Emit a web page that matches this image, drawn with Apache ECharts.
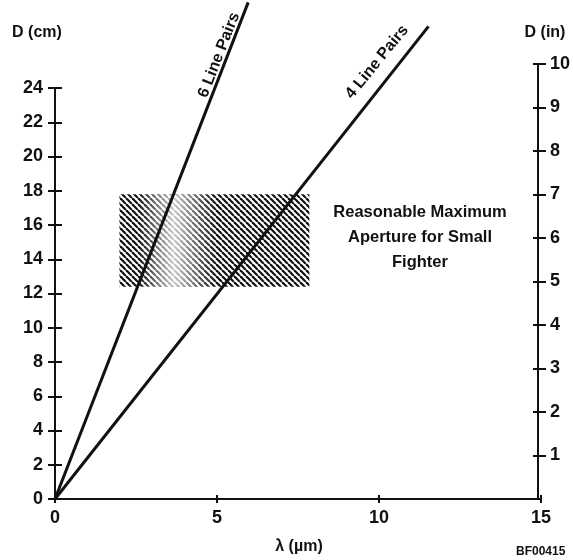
<!DOCTYPE html>
<html>
<head>
<meta charset="utf-8">
<script src="https://cdn.jsdelivr.net/npm/echarts@6/dist/echarts.min.js"></script>
<style>
  html, body { margin: 0; padding: 0; background: #fff; }
  #chart { width: 573px; height: 560px; }
</style>
</head>
<body>
<div id="chart"></div>
<script>
// values
const lp6Lambda = [0, 6.0];
const lp6D = [0, 29.0];
const lp4Lambda = [0, 11.6];
const lp4D = [0, 27.6];
const boxLambda = [2.0, 7.9];
const boxD = [12.4, 17.8];
const fadeLambda = [2.6, 5.0];
const xTicks = [0, 5, 10, 15];
const cmMax = 24;
const inchMax = 10;
const cmPerInch = 2.54;

const FONT = '"Liberation Sans Narrow", "Liberation Sans", Arial, sans-serif';
const ink = '#111';

// diagonal hatch for the aperture box
function makeHatch() {
  const c = document.createElement('canvas');
  c.width = 6; c.height = 6;
  const ctx = c.getContext('2d');
  ctx.strokeStyle = '#111';
  ctx.lineWidth = 2.2;
  for (const k of [-6, 0, 6]) {
    ctx.beginPath();
    ctx.moveTo(k, 0);
    ctx.lineTo(k + 6, 6);
    ctx.stroke();
  }
  return c;
}

const chart = echarts.init(document.getElementById('chart'));

const gridL = 55, gridR = 32, gridB = 61;
const gridTopCm = 88;
// right (inch) axis reaches 25.4 cm, so its grid sits higher
const pxPerCm = (560 - gridB - gridTopCm) / cmMax;
const gridTopIn = Math.round(560 - gridB - inchMax * cmPerInch * pxPerCm);

const labelStyle = { color: ink, fontFamily: FONT, fontWeight: 'bold', fontSize: 18 };
const tickLine = { color: ink, width: 2 };
const noSplit = { show: false };

function pts(xs, ys) { return xs.map((x, i) => [x, ys[i]]); }

// grids 0/2 carry the cm scale, 1/3 the inch scale; 2 and 3 only add the
// inward half of the crossing ticks
const xRange = { type: 'value', min: xTicks[0], max: xTicks[xTicks.length - 1], interval: 5, splitLine: noSplit };

chart.setOption({
  animation: false,
  grid: [
    { left: gridL, right: gridR, top: gridTopCm, bottom: gridB },
    { left: gridL, right: gridR, top: gridTopIn, bottom: gridB },
    { left: gridL, right: gridR, top: gridTopCm, bottom: gridB },
    { left: gridL, right: gridR, top: gridTopIn, bottom: gridB }
  ],
  xAxis: [
    Object.assign({}, xRange, {
      gridIndex: 0,
      axisLine: { lineStyle: tickLine },
      axisTick: { length: 4, lineStyle: tickLine },
      axisLabel: Object.assign({ margin: 10 }, labelStyle)
    }),
    Object.assign({}, xRange, { gridIndex: 1, show: false }),
    Object.assign({}, xRange, {
      gridIndex: 2,
      axisLine: { show: false },
      axisTick: { inside: true, length: 4, lineStyle: tickLine },
      axisLabel: { show: false }
    }),
    Object.assign({}, xRange, { gridIndex: 3, show: false })
  ],
  yAxis: [
    {
      gridIndex: 0, type: 'value', position: 'left', min: 0, max: cmMax, interval: 2,
      axisLine: { show: true, onZero: false, lineStyle: tickLine },
      axisTick: { show: true, length: 7, lineStyle: tickLine },
      axisLabel: Object.assign({ margin: 12 }, labelStyle),
      splitLine: noSplit
    },
    {
      gridIndex: 1, type: 'value', position: 'right', min: 0, max: inchMax, interval: 1,
      axisLine: { show: true, onZero: false, lineStyle: tickLine },
      axisTick: { show: true, length: 8, lineStyle: tickLine },
      axisLabel: Object.assign({ margin: 12, showMinLabel: false }, labelStyle),
      splitLine: noSplit
    },
    {
      gridIndex: 2, type: 'value', position: 'left', min: 0, max: cmMax, interval: 2,
      axisLine: { show: false, onZero: false },
      axisTick: { show: true, inside: true, length: 7, lineStyle: tickLine },
      axisLabel: { show: false },
      splitLine: noSplit
    },
    {
      gridIndex: 3, type: 'value', position: 'right', min: 0, max: inchMax, interval: 1,
      axisLine: { show: false, onZero: false },
      axisTick: { show: true, inside: true, length: 8, lineStyle: tickLine },
      axisLabel: { show: false },
      splitLine: noSplit
    },
    {
      // hidden cm scale spanning the inch grid, used to place the data
      gridIndex: 1, type: 'value', position: 'left', show: false, min: 0, max: inchMax * cmPerInch,
      axisLine: { onZero: false },
      splitLine: noSplit
    }
  ],
  series: [
    {
      type: 'line', xAxisIndex: 1, yAxisIndex: 4, data: [], z: 1, silent: true,
      markArea: {
        silent: true,
        label: { show: false },
        data: [
          [
            { coord: [boxLambda[0], boxD[0]], itemStyle: { color: { image: makeHatch(), repeat: 'repeat' } } },
            { coord: [boxLambda[1], boxD[1]] }
          ],
          [
            {
              coord: [fadeLambda[0], boxD[0]],
              itemStyle: {
                color: {
                  type: 'linear', x: 0, y: 0, x2: 1, y2: 0,
                  colorStops: [
                    { offset: 0, color: 'rgba(255,255,255,0)' },
                    { offset: 0.45, color: 'rgba(255,255,255,0.78)' },
                    { offset: 1, color: 'rgba(255,255,255,0)' }
                  ]
                }
              }
            },
            { coord: [fadeLambda[1], boxD[1]] }
          ]
        ]
      }
    },
    {
      name: '6 Line Pairs', type: 'line', xAxisIndex: 1, yAxisIndex: 4,
      data: pts(lp6Lambda, lp6D), symbol: 'none', clip: false, z: 5,
      lineStyle: { color: ink, width: 3 }
    },
    {
      name: '4 Line Pairs', type: 'line', xAxisIndex: 1, yAxisIndex: 4,
      data: pts(lp4Lambda, lp4D), symbol: 'none', clip: false, z: 5,
      lineStyle: { color: ink, width: 3 }
    }
  ],
  graphic: [
    { type: 'text', x: 37, y: 33, style: { text: 'D (cm)', fill: ink, font: 'bold 16px "Liberation Sans", Arial', align: 'center', verticalAlign: 'middle' } },
    { type: 'text', x: 545, y: 33, style: { text: 'D (in)', fill: ink, font: 'bold 16px "Liberation Sans", Arial', align: 'center', verticalAlign: 'middle' } },
    { type: 'text', x: 299, y: 547, style: { text: 'λ (µm)', fill: ink, font: 'bold 16px "Liberation Sans", Arial', align: 'center', verticalAlign: 'middle' } },
    { type: 'text', x: 516, y: 552, style: { text: 'BF00415', fill: ink, font: 'bold 12px ' + FONT, align: 'left', verticalAlign: 'middle' } },
    { type: 'text', x: 219, y: 55, rotation: 68.7 * Math.PI / 180, style: { text: '6 Line Pairs', fill: ink, font: 'bold 16px "Liberation Sans", Arial', align: 'center', verticalAlign: 'middle' } },
    { type: 'text', x: 377, y: 62, rotation: 50.8 * Math.PI / 180, style: { text: '4 Line Pairs', fill: ink, font: 'bold 16px "Liberation Sans", Arial', align: 'center', verticalAlign: 'middle' } },
    { type: 'text', x: 420, y: 237, style: { text: 'Reasonable Maximum\nAperture for Small\nFighter', fill: ink, font: 'bold 16.5px "Liberation Sans", Arial', align: 'center', verticalAlign: 'middle', lineHeight: 25 } }
  ]
});
</script>
</body>
</html>
